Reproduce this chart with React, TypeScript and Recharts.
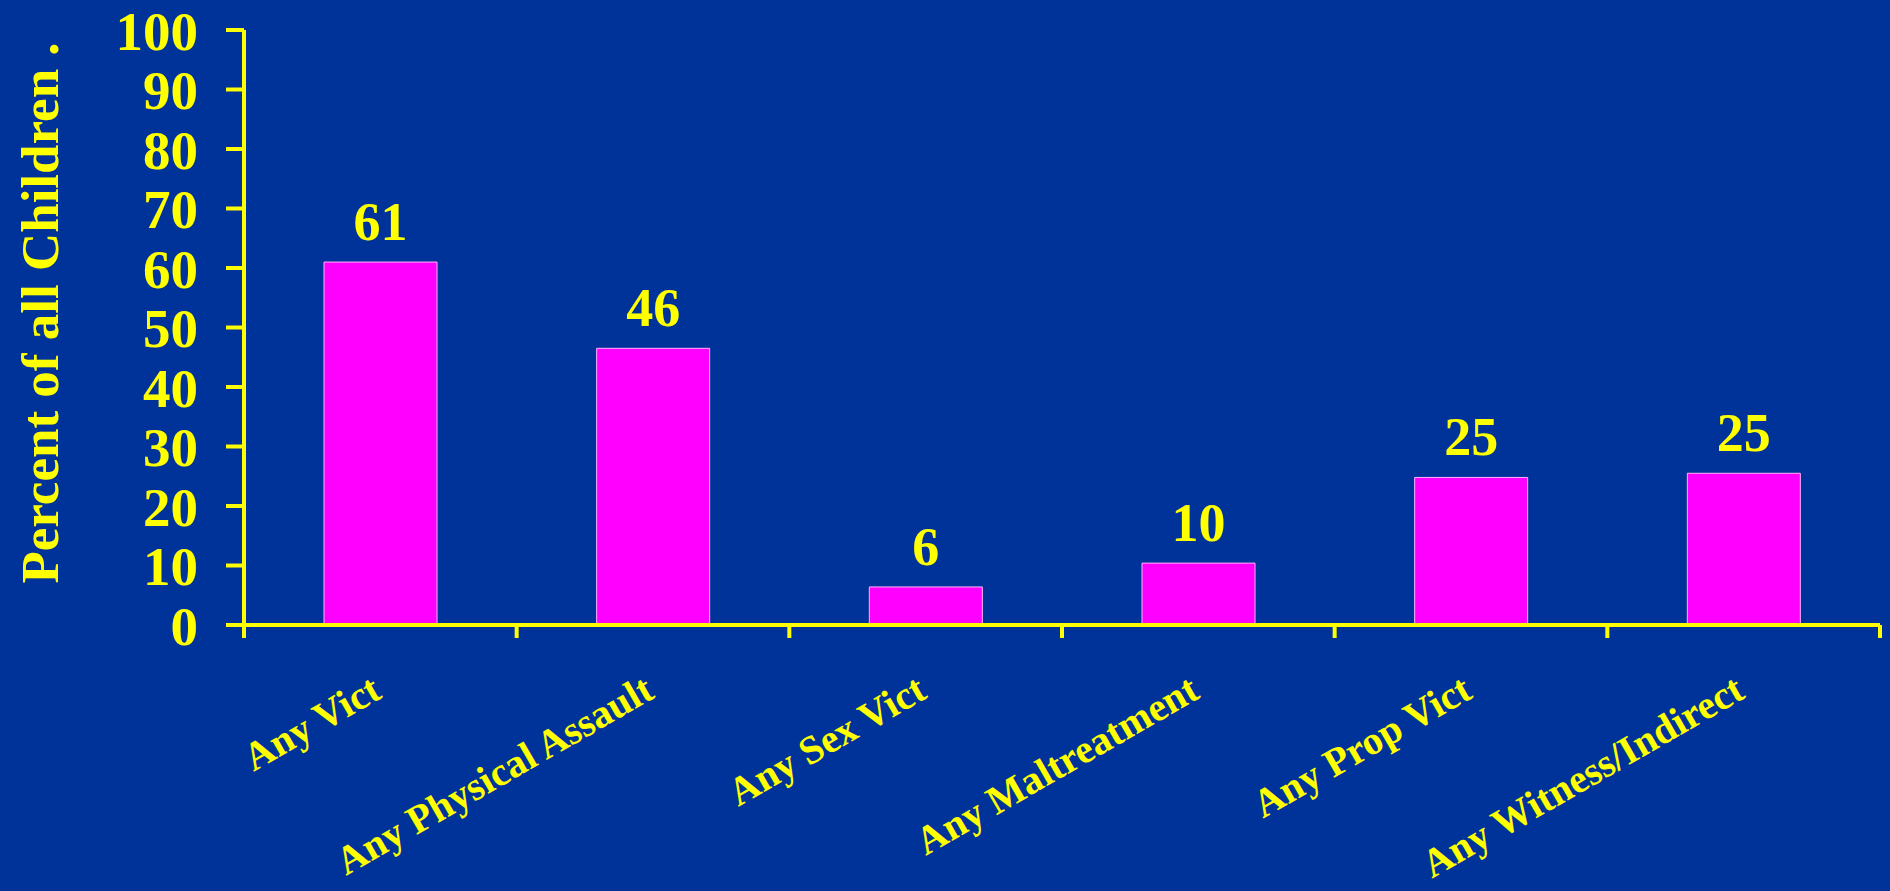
import React from 'react';
import { BarChart, Bar, XAxis, YAxis, LabelList } from 'recharts';

const categories = [
  'Any Vict',
  'Any Physical Assault',
  'Any Sex Vict',
  'Any Maltreatment',
  'Any Prop Vict',
  'Any Witness/Indirect',
];
const percentValues = [61, 46.5, 6.4, 10.4, 24.8, 25.5];
const labelValues = ['61', '46', '6', '10', '25', '25'];
const yTicks = [0, 10, 20, 30, 40, 50, 60, 70, 80, 90, 100];

const data = categories.map((c, i) => ({
  name: c,
  value: percentValues[i],
  label: labelValues[i],
}));

const BG = '#003399';
const YELLOW = '#FFFF00';
const MAGENTA = '#FF00FF';
const FONT = '"Liberation Serif", "Times New Roman", serif';

const XTick = (props: any) => {
  const { x, y, payload, index, visibleTicksCount, width } = props;
  const count = visibleTicksCount || categories.length;
  const band = (typeof width === 'number' ? width : 1636) / count;
  const tx = x + 3;
  const ty = y + 72;
  return (
    <g>
      <line x1={x - band / 2} x2={x - band / 2} y1={y} y2={y + 13} stroke={YELLOW} strokeWidth={4} />
      {index === count - 1 && (
        <line x1={x + band / 2} x2={x + band / 2} y1={y} y2={y + 13} stroke={YELLOW} strokeWidth={4} />
      )}
      <text
        x={tx}
        y={ty}
        textAnchor="end"
        transform={`rotate(-30, ${tx}, ${ty})`}
        fill={YELLOW}
        fontFamily={FONT}
        fontWeight="bold"
        fontSize={40}
      >
        {payload.value}
      </text>
    </g>
  );
};

const YTitle = () => (
  <text
    x={58}
    y={313}
    textAnchor="middle"
    transform="rotate(-90, 58, 313)"
    fill={YELLOW}
    fontFamily={FONT}
    fontWeight="bold"
    fontSize={53}
  >
    Percent of all Children .
  </text>
);

export default function App() {
  return (
    <div
      style={{
        position: 'fixed',
        left: 0,
        top: 0,
        width: 1890,
        height: 891,
        background: BG,
      }}
    >
      <BarChart
        width={1890}
        height={891}
        data={data}
        margin={{ top: 30, right: 10, bottom: 0, left: 0 }}
        barSize={113}
      >
        <XAxis
          dataKey="name"
          height={266}
          interval={0}
          tickSize={0}
          tickMargin={0}
          tickLine={false}
          axisLine={{ stroke: YELLOW, strokeWidth: 4 }}
          tick={<XTick />}
        />
        <YAxis
          width={244}
          domain={[0, 100]}
          ticks={yTicks}
          interval={0}
          tickSize={18}
          tickMargin={28}
          axisLine={{ stroke: YELLOW, strokeWidth: 4 }}
          tickLine={{ stroke: YELLOW, strokeWidth: 4 }}
          tick={{ fill: YELLOW, fontFamily: FONT, fontWeight: 'bold', fontSize: 55 }}
          label={<YTitle />}
        />
        <Bar
          dataKey="value"
          fill={MAGENTA}
          stroke="#FFB3FF"
          strokeWidth={1}
          isAnimationActive={false}
        >
          <LabelList
            dataKey="label"
            position="top"
            offset={22}
            fill={YELLOW}
            fontFamily={FONT}
            fontWeight="bold"
            fontSize={54}
          />
        </Bar>
      </BarChart>
    </div>
  );
}
